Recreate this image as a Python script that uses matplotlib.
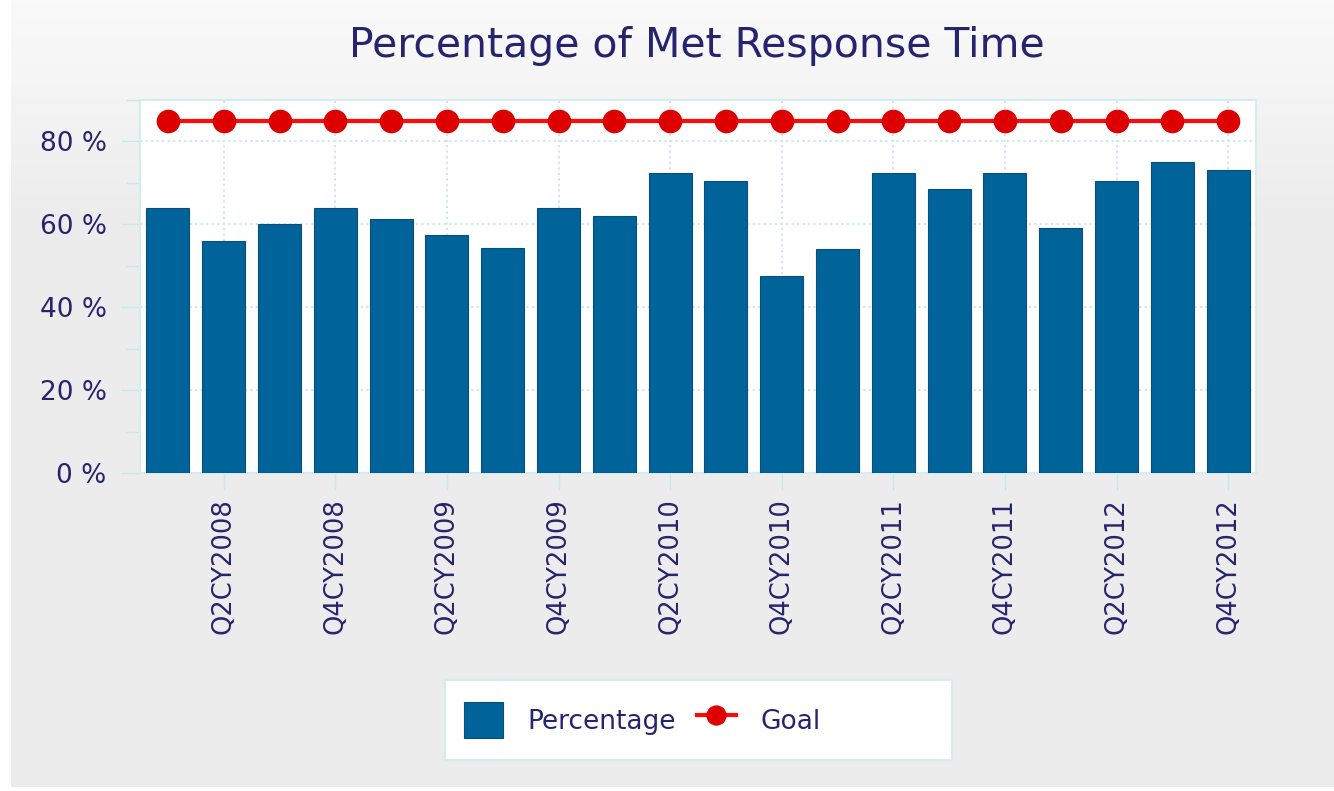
import matplotlib.pyplot as plt
import numpy as np
from matplotlib.colors import LinearSegmentedColormap
from matplotlib.patches import Rectangle
from matplotlib.ticker import FuncFormatter, MultipleLocator

# quarters Q1CY2008 .. Q4CY2012
quarters = [f'Q{q}CY{y}' for y in range(2008, 2013) for q in range(1, 5)]
percentage = [64, 56, 60, 64, 61.2, 57.4, 54.2, 64, 62, 72.3,
              70.4, 47.5, 54, 72.3, 68.5, 72.3, 59.2, 70.4, 75, 73.1]
goal = [85] * len(quarters)

text_color = '#26246e'
bar_color = '#00639a'
grid_color = '#c8e8ec'

fig = plt.figure(figsize=(13.34, 7.91), dpi=100, facecolor='white')

# gray gradient background
bg = fig.add_axes([11 / 1334, 4 / 791, 1 - 11 / 1334, 1 - 4 / 791], zorder=-10)
grad = np.clip(np.linspace(0, 1, 256).reshape(-1, 1) * 3.5, 0, 1)
cmap = LinearSegmentedColormap.from_list('bg', ['#fafafa', '#ececec'])
bg.imshow(grad, aspect='auto', cmap=cmap, extent=[0, 1, 0, 1], origin='upper')
bg.axis('off')

ax = fig.add_axes([140 / 1334, 1 - 473 / 791, 1116 / 1334, 373 / 791])
ax.set_facecolor('white')

x = np.arange(len(quarters))
bars = ax.bar(x, percentage, width=0.77, color=bar_color, edgecolor='#0b4f78',
              linewidth=0.8, label='Percentage', zorder=3)
line, = ax.plot(x, goal, color='#ff0a0a', linewidth=3, marker='o', markersize=16,
                markerfacecolor='#dd0000', markeredgecolor='#dd0000', label='Goal', zorder=4)

ax.set_xlim(-0.5, len(quarters) - 0.5)
ax.set_ylim(0, 90)

ax.set_xticks(x[1::2])
ax.set_xticklabels(quarters[1::2], rotation=90, fontsize=18.5, color=text_color)
ax.yaxis.set_major_locator(MultipleLocator(20))
ax.yaxis.set_minor_locator(MultipleLocator(10))
ax.yaxis.set_major_formatter(FuncFormatter(lambda v, p: f'{v:.0f} %'))
for lab in ax.get_yticklabels():
    lab.set_fontsize(19)
    lab.set_color(text_color)

ax.tick_params(axis='x', length=12, width=1, color=grid_color, pad=6)
ax.tick_params(axis='y', which='major', length=14, width=1, color=grid_color, pad=10)
ax.tick_params(axis='y', which='minor', length=10, width=1, color=grid_color)
ax.grid(True, which='major', color=grid_color, linestyle=':', linewidth=1.5, zorder=0)

for s in ax.spines.values():
    s.set_color('#d4eef0')
    s.set_linewidth(1.5)

fig.text(0.522, 1 - 46 / 791, 'Percentage of Met Response Time', ha='center', va='center',
         fontsize=29.5, color=text_color)

# legend box
fig.patches.append(Rectangle((445 / 1334, 1 - 760 / 791), 507 / 1334, 80 / 791,
                             transform=fig.transFigure, facecolor='white',
                             edgecolor='#d4eef0', linewidth=1.5, zorder=1))
leg = fig.legend([bars, line], ['Percentage', 'Goal'], loc='center left',
                 bbox_to_anchor=(440 / 1334, 1 - 720 / 791), ncol=2,
                 fontsize=19, frameon=False, handlelength=1.5, handleheight=1.7,
                 columnspacing=0.8, handletextpad=0.9, markerscale=0.85,
                 labelcolor=text_color)
leg.set_zorder(2)

fig.savefig('out.png', dpi=100)
